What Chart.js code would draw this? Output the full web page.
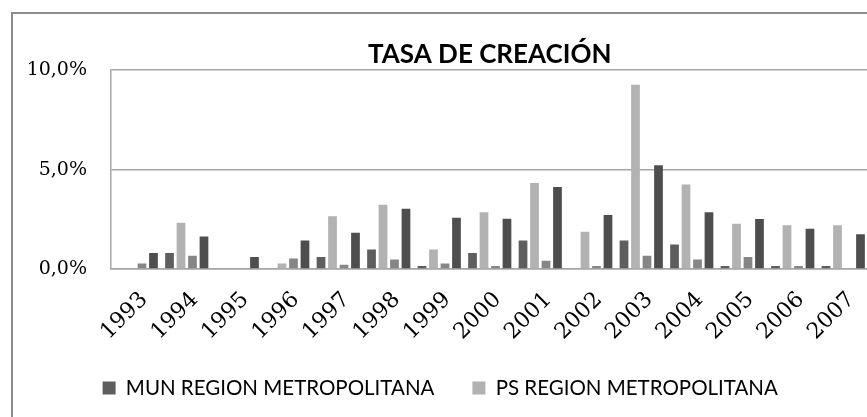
<!DOCTYPE html>
<html>
<head>
<meta charset="utf-8">
<script src="https://cdn.jsdelivr.net/npm/chart.js@4/dist/chart.umd.min.js"></script>
<style>
  html, body { margin: 0; padding: 0; background: #fff; overflow: hidden; }
  #wrap { position: relative; width: 867px; height: 417px; overflow: hidden; }
  #frame { position: absolute; left: 11px; top: 12px; width: 1000px; height: 600px;
           border-left: 2px solid #8c8c8c; border-top: 2px solid #8c8c8c; }
  #myChart { position: absolute; left: 0; top: 0; }
</style>
</head>
<body>
<div id="wrap">
  <div id="frame"></div>
  <canvas id="myChart" width="945" height="417"></canvas>
</div>
<script>
// years on the x axis
var years = ['1993','1994','1995','1996','1997','1998','1999','2000','2001','2002','2003','2004','2005','2006','2007']

// rates in %
var munRM = [0, 0.80, 0, 0, 0.60, 0.98, 0.15, 0.80, 1.43, 0, 1.43, 1.23, 0.15, 0.15, 0.15]
var psRM = [0, 2.33, 0, 0.28, 2.65, 3.23, 0.98, 2.85, 4.33, 1.88, 9.27, 4.25, 2.27, 2.20, 2.20]
var serie3 = [0.28, 0.67, 0, 0.53, 0.22, 0.48, 0.28, 0.15, 0.42, 0.15, 0.67, 0.48, 0.60, 0.15, 0]
var serie4 = [0.80, 1.63, 0.60, 1.43, 1.82, 3.03, 2.58, 2.53, 4.13, 2.72, 5.22, 2.85, 2.52, 2.02, 1.75]

var yTickValues = [0, 5, 10]
var yTickLabels = ['0,0%', '5,0%', '10,0%']

var gridGray = '#a6a6a6'

var ctx = document.getElementById('myChart').getContext('2d')
var chart = new Chart(ctx, {
  type: 'bar',
  data: {
    labels: years,
    datasets: [
      { label: 'MUN REGION METROPOLITANA', data: munRM, backgroundColor: '#5e5e5e' },
      { label: 'PS REGION METROPOLITANA', data: psRM, backgroundColor: '#b2b2b2' },
      { label: 'Serie 3', data: serie3, backgroundColor: '#868686' },
      { label: 'Serie 4', data: serie4, backgroundColor: '#4e4e4e' }
    ]
  },
  options: {
    responsive: false,
    animation: false,
    categoryPercentage: 0.91,
    barPercentage: 0.76,
    layout: { padding: { left: 12, right: 76.5, top: 0, bottom: 8.75 } },
    plugins: {
      tooltip: { enabled: false },
      title: {
        display: true,
        text: 'TASA DE CREACIÓN',
        fullSize: false,
        color: '#000',
        font: { family: 'Lato', size: 26, weight: 'bold' },
        padding: { top: 39, bottom: 0 }
      },
      legend: {
        position: 'bottom',
        labels: {
          color: '#000',
          font: { family: 'Lato', size: 20.5 },
          boxWidth: 13,
          boxHeight: 13,
          padding: 38,
          filter: function (item) { return item.datasetIndex < 2 }
        }
      }
    },
    scales: {
      x: {
        grid: { display: false },
        border: { display: true, color: gridGray, width: 1.5 },
        ticks: {
          color: '#000',
          font: { family: 'DejaVu Serif', size: 22 },
          minRotation: 45,
          maxRotation: 45,
          autoSkip: false,
          padding: 10,
          labelOffset: 8
        },
        afterFit: function (scale) { scale.height = 70.75 }
      },
      y: {
        min: 0,
        max: 10,
        afterBuildTicks: function (scale) {
          scale.ticks = yTickValues.map(function (v) { return { value: v } })
        },
        grid: { color: gridGray, lineWidth: 1.5, drawTicks: false },
        border: { display: true, color: gridGray, width: 1.5 },
        ticks: {
          color: '#000',
          font: { family: 'DejaVu Serif', size: 19 },
          padding: 24,
          callback: function (value, index) { return yTickLabels[index] }
        },
        afterFit: function (scale) { scale.width = 99 }
      }
    }
  }
})
</script>
</body>
</html>
